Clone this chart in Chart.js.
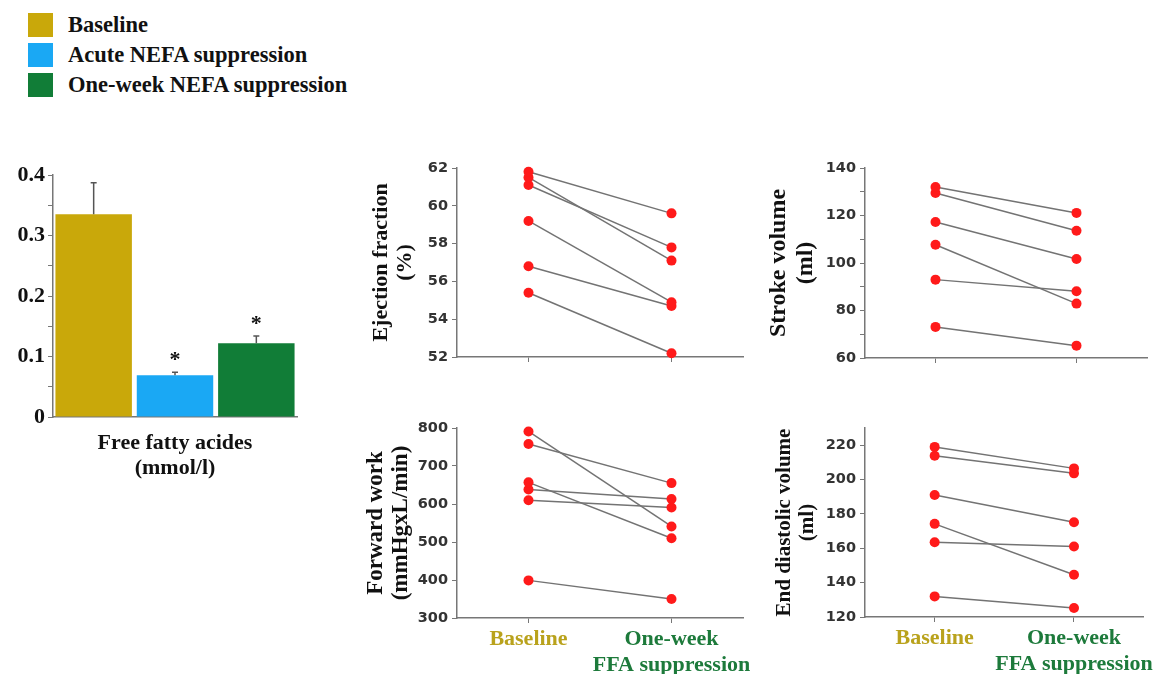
<!DOCTYPE html>
<html>
<head>
<meta charset="utf-8">
<title>NEFA suppression and cardiac function</title>
<script src="https://cdn.jsdelivr.net/npm/chart.js@4.4.1/dist/chart.umd.min.js"></script>
<style>
  html, body { margin: 0; padding: 0; background: #fff; }
  body { width: 1160px; height: 674px; position: relative; overflow: hidden; }
  .panel { position: absolute; }
  .legend { position: absolute; left: 28px; top: 10px; font: bold 22.5px 'Liberation Serif', serif; color: #111; }
  .legend-item { display: flex; align-items: center; height: 30px; }
  .swatch { width: 25px; height: 24px; margin-right: 15px; }
</style>
</head>
<body>

<div class="legend">
  <div class="legend-item"><span class="swatch" style="background:#c9a80a"></span>Baseline</div>
  <div class="legend-item"><span class="swatch" style="background:#1aa8f4"></span>Acute NEFA suppression</div>
  <div class="legend-item"><span class="swatch" style="background:#117d37"></span>One-week NEFA suppression</div>
</div>

<div class="panel" style="left:0;top:150px;width:320px;height:340px"><canvas id="ffaChart"></canvas></div>
<div class="panel" style="left:350px;top:150px;width:410px;height:230px"><canvas id="efChart"></canvas></div>
<div class="panel" style="left:760px;top:150px;width:400px;height:230px"><canvas id="svChart"></canvas></div>
<div class="panel" style="left:350px;top:410px;width:410px;height:264px"><canvas id="fwChart"></canvas></div>
<div class="panel" style="left:760px;top:410px;width:400px;height:264px"><canvas id="edvChart"></canvas></div>

<script>
// Free fatty acids, mean + SEM per condition
const ffaGroups = ['Baseline', 'Acute NEFA suppression', 'One-week NEFA suppression'];
const ffaMeans = [0.335, 0.069, 0.122];
const ffaErrors = [0.052, 0.005, 0.012];
const ffaMarks = ['', '*', '*'];
const ffaColors = ['#c9a80a', '#1aa8f4', '#117d37'];
const ffaTicks = ['0', '0.1', '0.2', '0.3', '0.4'];

// Paired patient values, baseline vs one week of FFA suppression
const groupLabels = ['Baseline', ['One-week', 'FFA suppression']];
const groupColors = ['#b9a21c', '#1d7a3b'];

const efBaseline = [61.8, 61.5, 61.1, 59.2, 56.8, 55.4];
const efOneWeek  = [59.6, 57.1, 57.8, 54.9, 54.7, 52.2];

const svBaseline = [132.0, 129.5, 117.3, 107.7, 93.0, 73.1];
const svOneWeek  = [121.1, 113.6, 101.7, 82.9, 88.1, 65.2];

const fwBaseline = [791, 758, 657, 638, 610, 399];
const fwOneWeek  = [541, 655, 510, 613, 591, 350];

const edvBaseline = [219.0, 213.8, 191.0, 174.2, 163.5, 132.0];
const edvOneWeek  = [206.5, 203.6, 175.1, 144.6, 161.0, 125.2];

const axisGray = '#777';
const serif = "'Liberation Serif', 'Times New Roman', serif";

// error bars and significance stars on top of the FFA bars
const errorBars = {
  id: 'errorBars',
  afterDatasetsDraw(chart) {
    const { ctx, scales: { y } } = chart;
    const meta = chart.getDatasetMeta(0);
    ctx.save();
    meta.data.forEach((bar, i) => {
      const top = y.getPixelForValue(ffaMeans[i] + ffaErrors[i]);
      ctx.strokeStyle = '#555';
      ctx.lineWidth = 1.5;
      ctx.beginPath();
      ctx.moveTo(bar.x, bar.y);
      ctx.lineTo(bar.x, top);
      ctx.moveTo(bar.x - 3, top);
      ctx.lineTo(bar.x + 3, top);
      ctx.stroke();
      if (ffaMarks[i]) {
        ctx.fillStyle = '#111';
        ctx.font = 'bold 22px ' + serif;
        ctx.textAlign = 'center';
        ctx.textBaseline = 'middle';
        ctx.fillText(ffaMarks[i], bar.x, top - 12);
      }
    });
    ctx.restore();
  }
};

new Chart(document.getElementById('ffaChart'), {
  type: 'bar',
  data: {
    labels: ffaGroups,
    datasets: [{
      data: ffaMeans,
      backgroundColor: ffaColors,
      borderWidth: 0,
      categoryPercentage: 1,
      barPercentage: 0.94
    }]
  },
  options: {
    responsive: true,
    maintainAspectRatio: false,
    animation: false,
    layout: { padding: { left: 0, right: 23, top: 25, bottom: 0 } },
    plugins: { legend: { display: false }, tooltip: { enabled: false } },
    scales: {
      x: {
        grid: { display: false },
        border: { color: axisGray, width: 1.5 },
        ticks: { display: false },
        title: {
          display: true,
          text: ['Free fatty acides', '(mmol/l)'],
          color: '#111',
          font: { family: serif, size: 22, weight: 'bold', lineHeight: 1.15 },
          padding: { top: 0, bottom: 9 }
        },
        afterFit: s => { s.height = 73; }
      },
      y: {
        min: 0,
        max: 0.4,
        grid: { drawOnChartArea: false, drawTicks: true, tickLength: 5, color: axisGray },
        border: { color: axisGray, width: 1.5 },
        ticks: {
          stepSize: 0.05,
          padding: 3,
          color: '#111',
          font: { family: serif, size: 22, weight: 'bold' },
          callback: v => {
            const k = Math.round(v * 20);
            return k % 2 ? '' : ffaTicks[k / 2];
          }
        },
        afterFit: s => { s.width = 53; }
      }
    }
  },
  plugins: [errorBars]
});

function pairChart(id, base, week, cfg) {
  const datasets = base.map((b, i) => ({
    data: [b, week[i]],
    borderColor: '#737373',
    borderWidth: 1.5,
    pointRadius: 5,
    pointBackgroundColor: '#ff1a1a',
    pointBorderColor: '#ff1a1a',
    pointBorderWidth: 0,
    tension: 0,
    clip: false
  }));
  return new Chart(document.getElementById(id), {
    type: 'line',
    data: { labels: groupLabels, datasets },
    options: {
      responsive: true,
      maintainAspectRatio: false,
      animation: false,
      layout: { padding: { left: 0, right: cfg.padRight, top: 18, bottom: 0 } },
      plugins: { legend: { display: false }, tooltip: { enabled: false } },
      scales: {
        x: {
          offset: true,
          grid: { drawOnChartArea: false, drawTicks: true, tickLength: 5, color: axisGray },
          border: { color: axisGray, width: 1.5 },
          ticks: {
            display: cfg.showGroups,
            autoSkip: false,
            maxRotation: 0,
            minRotation: 0,
            padding: 4,
            color: c => groupColors[c.index],
            font: { family: serif, size: 22, weight: 'bold', lineHeight: 1.15 }
          },
          afterFit: s => { s.height = cfg.xHeight; }
        },
        y: {
          min: cfg.min,
          max: cfg.max,
          grid: { drawOnChartArea: false, drawTicks: true, tickLength: 5, color: axisGray },
          border: { color: axisGray, width: 1.5 },
          ticks: {
            stepSize: cfg.minorStep,
            includeBounds: false,
            maxTicksLimit: 30,
            padding: 4,
            color: '#333',
            font: { family: "'DejaVu Sans', sans-serif", size: 14.5, weight: 'bold' },
            callback: v => (Math.round(v) % cfg.majorStep === 0 ? v : '')
          },
          title: {
            display: true,
            text: cfg.title,
            color: '#111',
            font: { family: serif, size: cfg.titleSize, weight: 'bold', lineHeight: 1.1 },
            padding: { top: cfg.titlePad, bottom: 0 }
          },
          afterFit: s => { s.width = cfg.yWidth; }
        }
      }
    }
  });
}

pairChart('efChart', efBaseline, efOneWeek, {
  min: 52, max: 62, minorStep: 1, majorStep: 2,
  title: ['Ejection fraction', '(%)'], titleSize: 22, titlePad: 19,
  yWidth: 107, xHeight: 23, padRight: 17, showGroups: false
});

pairChart('svChart', svBaseline, svOneWeek, {
  min: 60, max: 140, minorStep: 10, majorStep: 20,
  title: ['Stroke volume', '(ml)'], titleSize: 24, titlePad: 6,
  yWidth: 105, xHeight: 22, padRight: 13, showGroups: false
});

pairChart('fwChart', fwBaseline, fwOneWeek, {
  min: 300, max: 800, minorStep: 50, majorStep: 100,
  title: ['Forward work', '(mmHgxL/min)'], titleSize: 23, titlePad: 13,
  yWidth: 107, xHeight: 56, padRight: 17, showGroups: true
});

pairChart('edvChart', edvBaseline, edvOneWeek, {
  min: 120, max: 230, minorStep: 10, majorStep: 20,
  title: ['End diastolic volume', '(ml)'], titleSize: 21, titlePad: 13,
  yWidth: 105, xHeight: 57, padRight: 13, showGroups: true
});
</script>
</body>
</html>
